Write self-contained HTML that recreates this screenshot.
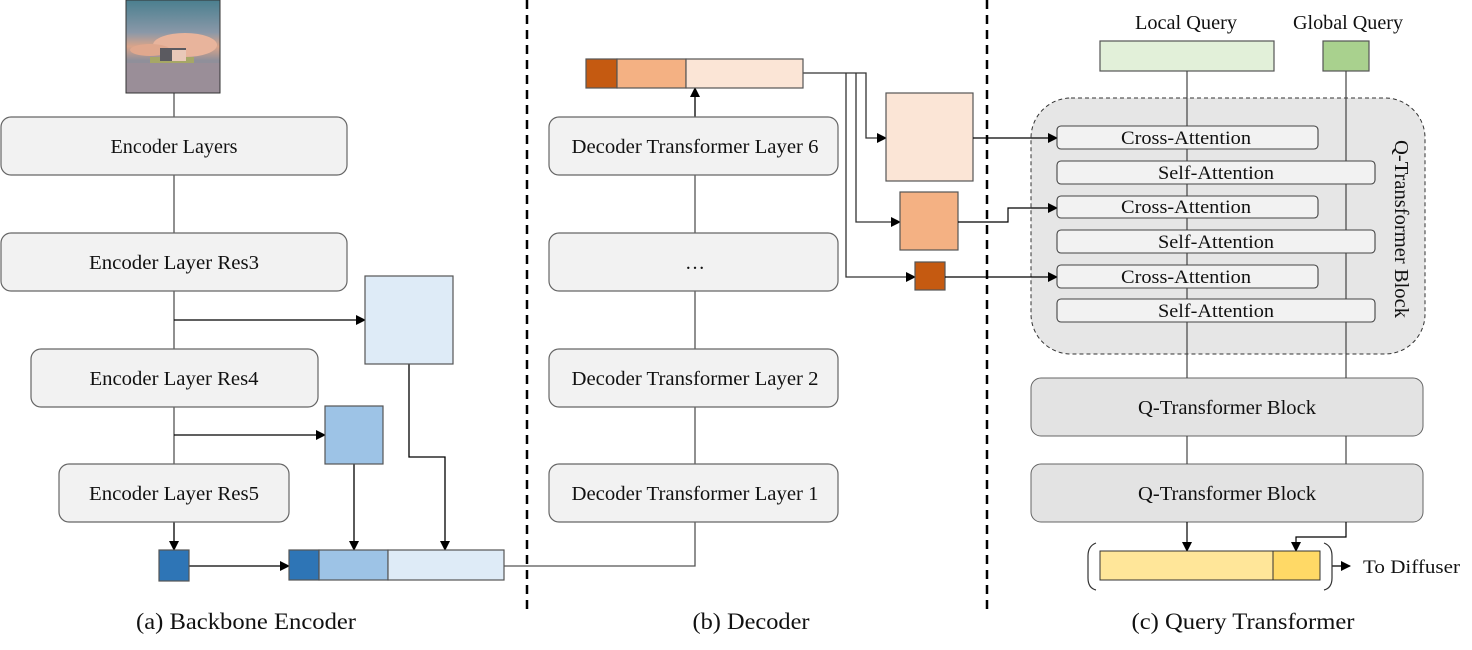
<!DOCTYPE html>
<html><head><meta charset="utf-8"><style>html,body{margin:0;padding:0;background:#fff}svg{display:block}text{font-family:"Liberation Serif",serif;fill:#111}</style></head><body>
<svg width="1472" height="650" viewBox="0 0 1472 650" xmlns="http://www.w3.org/2000/svg">
<defs>
<marker id="a" markerWidth="10" markerHeight="10" refX="9" refY="5" orient="auto" markerUnits="userSpaceOnUse"><path d="M0,0 L10,5 L0,10 z" fill="#000"/></marker>
<linearGradient id="sky" x1="0" y1="0" x2="0" y2="1"><stop offset="0" stop-color="#4a7f8f"/><stop offset="0.35" stop-color="#8a98a8"/><stop offset="0.5" stop-color="#d9a48a"/><stop offset="0.65" stop-color="#8f8f9a"/><stop offset="1" stop-color="#9a8f98"/></linearGradient>
</defs>
<g stroke="#555" stroke-width="1.3" fill="none">
<line x1="174" y1="93" x2="174" y2="117"/><line x1="174" y1="175" x2="174" y2="233"/><line x1="174" y1="291" x2="174" y2="349"/><line x1="174" y1="407" x2="174" y2="464"/>
<line x1="174" y1="522" x2="174" y2="550" stroke="#000" marker-end="url(#a)"/>
<line x1="174" y1="320" x2="365" y2="320" stroke="#000" marker-end="url(#a)"/>
<line x1="174" y1="435" x2="325" y2="435" stroke="#000" marker-end="url(#a)"/>
<polyline points="409,364 409,457 445,457 445,550" stroke="#000" marker-end="url(#a)"/>
<line x1="354" y1="464" x2="354" y2="550" stroke="#000" marker-end="url(#a)"/>
<line x1="189" y1="566" x2="289" y2="566" stroke="#000" marker-end="url(#a)"/>
<polyline points="504,566 695,566 695,522"/>
<line x1="695" y1="175" x2="695" y2="233"/><line x1="695" y1="291" x2="695" y2="349"/><line x1="695" y1="407" x2="695" y2="464"/>
<line x1="695" y1="117" x2="695" y2="88" stroke="#000" marker-end="url(#a)"/>
<polyline points="803,73 866,73 866,138 886,138" marker-end="url(#a)" stroke="#333"/>
<polyline points="856,73 856,222 900,222" marker-end="url(#a)" stroke="#333"/>
<polyline points="846,73 846,277 915,277" marker-end="url(#a)" stroke="#333"/>
</g>
<line x1="527" y1="0" x2="527" y2="610" stroke="#000" stroke-width="2.5" stroke-dasharray="9,6"/>
<line x1="987" y1="0" x2="987" y2="610" stroke="#000" stroke-width="2.5" stroke-dasharray="9,6"/>
<rect x="126" y="0" width="94" height="93" fill="url(#sky)" stroke="#333"/>
<ellipse cx="185" cy="45" rx="32" ry="12" fill="#e8b49c"/><ellipse cx="150" cy="50" rx="20" ry="6" fill="#e0a88e"/>
<rect x="126" y="63" width="94" height="30" fill="#9a8e98"/><rect x="150" y="57" width="44" height="6" fill="#a6a766"/>
<rect x="160" y="48" width="26" height="13" fill="#5b5a60"/><rect x="172" y="50" width="14" height="11" fill="#e9c8b8"/>
<rect x="126" y="0" width="94" height="93" fill="none" stroke="#333"/>
<g fill="#f2f2f2" stroke="#666" stroke-width="1.2">
<rect x="1" y="117" width="346" height="58" rx="10"/><rect x="1" y="233" width="346" height="58" rx="10"/>
<rect x="31" y="349" width="287" height="58" rx="10"/><rect x="59" y="464" width="230" height="58" rx="10"/>
<rect x="549" y="117" width="289" height="58" rx="10"/><rect x="549" y="233" width="289" height="58" rx="10"/>
<rect x="549" y="349" width="289" height="58" rx="10"/><rect x="549" y="464" width="289" height="58" rx="10"/>
</g>
<g stroke="#555" stroke-width="1.2">
<rect x="365" y="276" width="88" height="88" fill="#deebf7"/>
<rect x="325" y="406" width="58" height="58" fill="#9dc3e6"/>
<rect x="159" y="550" width="30" height="31" fill="#2e75b6"/>
<rect x="289" y="550" width="30" height="30" fill="#2e75b6"/><rect x="319" y="550" width="69" height="30" fill="#9dc3e6"/><rect x="388" y="550" width="116" height="30" fill="#deebf7"/>
<rect x="586" y="59" width="31" height="29" fill="#c55a11"/><rect x="617" y="59" width="69" height="29" fill="#f4b183"/><rect x="686" y="59" width="117" height="29" fill="#fbe5d6"/>
<rect x="886" y="93" width="87" height="88" fill="#fbe5d6"/>
<rect x="900" y="192" width="58" height="58" fill="#f4b183"/>
<rect x="915" y="262" width="30" height="28" fill="#c55a11"/>
<rect x="1100" y="41" width="174" height="30" fill="#e2f0d9"/>
<rect x="1323" y="41" width="46" height="30" fill="#a9d18e"/>
</g>
<g font-size="20" text-anchor="middle">
<text x="174" y="153" textLength="127" lengthAdjust="spacingAndGlyphs">Encoder Layers</text>
<text x="174" y="269" textLength="170" lengthAdjust="spacingAndGlyphs">Encoder Layer Res3</text>
<text x="174" y="385" textLength="169" lengthAdjust="spacingAndGlyphs">Encoder Layer Res4</text>
<text x="174" y="500" textLength="170" lengthAdjust="spacingAndGlyphs">Encoder Layer Res5</text>
<text x="695" y="153" textLength="247" lengthAdjust="spacingAndGlyphs">Decoder Transformer Layer 6</text>
<text x="695" y="269">…</text>
<text x="695" y="385" textLength="247" lengthAdjust="spacingAndGlyphs">Decoder Transformer Layer 2</text>
<text x="695" y="500" textLength="247" lengthAdjust="spacingAndGlyphs">Decoder Transformer Layer 1</text>
</g>
<text x="1186" y="29" font-size="20" text-anchor="middle" textLength="102" lengthAdjust="spacingAndGlyphs">Local Query</text>
<text x="1348" y="29" font-size="20" text-anchor="middle" textLength="110" lengthAdjust="spacingAndGlyphs">Global Query</text>
<rect x="1031" y="98" width="394" height="256" rx="40" fill="#e6e6e6" stroke="#333" stroke-dasharray="4,3"/>
<rect x="1031" y="378" width="392" height="58" rx="10" fill="#e3e3e3" stroke="#666"/>
<rect x="1031" y="464" width="392" height="58" rx="10" fill="#e3e3e3" stroke="#666"/>
<g stroke="#444" stroke-width="1.2" fill="none">
<line x1="1187" y1="71" x2="1187" y2="378"/><line x1="1346" y1="71" x2="1346" y2="378"/>
<line x1="1187" y1="436" x2="1187" y2="464"/><line x1="1346" y1="436" x2="1346" y2="464"/>
<line x1="1187" y1="522" x2="1187" y2="551" stroke="#000" marker-end="url(#a)"/>
<polyline points="1346,522 1346,537 1296,537 1296,551" stroke="#000" marker-end="url(#a)"/>
<line x1="973" y1="138" x2="1057" y2="138" stroke="#000" marker-end="url(#a)"/>
<polyline points="958,222 1008,222 1008,208 1057,208" stroke="#000" marker-end="url(#a)"/>
<line x1="945" y1="277" x2="1057" y2="277" stroke="#000" marker-end="url(#a)"/>
<line x1="1332" y1="566" x2="1350" y2="566" stroke="#000" marker-end="url(#a)"/>
<path d="M1096,543 Q1088,546 1088,556 L1088,578 Q1088,588 1096,590" stroke="#333"/>
<path d="M1324,543 Q1332,546 1332,556 L1332,578 Q1332,588 1324,590" stroke="#333"/>
</g>
<g fill="#f2f2f2" stroke="#444" stroke-width="1.1">
<rect x="1057" y="126" width="261" height="23" rx="4"/><rect x="1057" y="196" width="261" height="22" rx="4"/><rect x="1057" y="265" width="261" height="23" rx="4"/>
<rect x="1057" y="161" width="318" height="23" rx="4"/><rect x="1057" y="230" width="318" height="23" rx="4"/><rect x="1057" y="299" width="318" height="23" rx="4"/>
</g>
<g font-size="19" text-anchor="middle">
<text x="1186" y="144" textLength="130" lengthAdjust="spacingAndGlyphs">Cross-Attention</text><text x="1186" y="213" textLength="130" lengthAdjust="spacingAndGlyphs">Cross-Attention</text><text x="1186" y="283" textLength="130" lengthAdjust="spacingAndGlyphs">Cross-Attention</text>
<text x="1216" y="179" textLength="116" lengthAdjust="spacingAndGlyphs">Self-Attention</text><text x="1216" y="248" textLength="116" lengthAdjust="spacingAndGlyphs">Self-Attention</text><text x="1216" y="317" textLength="116" lengthAdjust="spacingAndGlyphs">Self-Attention</text>
</g>
<text x="0" y="0" font-size="20" text-anchor="middle" textLength="178" lengthAdjust="spacingAndGlyphs" transform="translate(1395,229) rotate(90)">Q-Transformer Block</text>
<text x="1227" y="414" font-size="20" text-anchor="middle" textLength="178" lengthAdjust="spacingAndGlyphs">Q-Transformer Block</text>
<text x="1227" y="500" font-size="20" text-anchor="middle" textLength="178" lengthAdjust="spacingAndGlyphs">Q-Transformer Block</text>
<rect x="1100" y="551" width="173" height="29" fill="#ffe699" stroke="#333"/>
<rect x="1273" y="551" width="47" height="29" fill="#ffd966" stroke="#333"/>
<text x="1363" y="573" font-size="19" textLength="97" lengthAdjust="spacingAndGlyphs">To Diffuser</text>
<text x="246" y="629" font-size="23" text-anchor="middle" textLength="220" lengthAdjust="spacingAndGlyphs">(a) Backbone Encoder</text>
<text x="751" y="629" font-size="23" text-anchor="middle" textLength="117" lengthAdjust="spacingAndGlyphs">(b) Decoder</text>
<text x="1243" y="629" font-size="23" text-anchor="middle" textLength="223" lengthAdjust="spacingAndGlyphs">(c) Query Transformer</text>
</svg>
</body></html>
